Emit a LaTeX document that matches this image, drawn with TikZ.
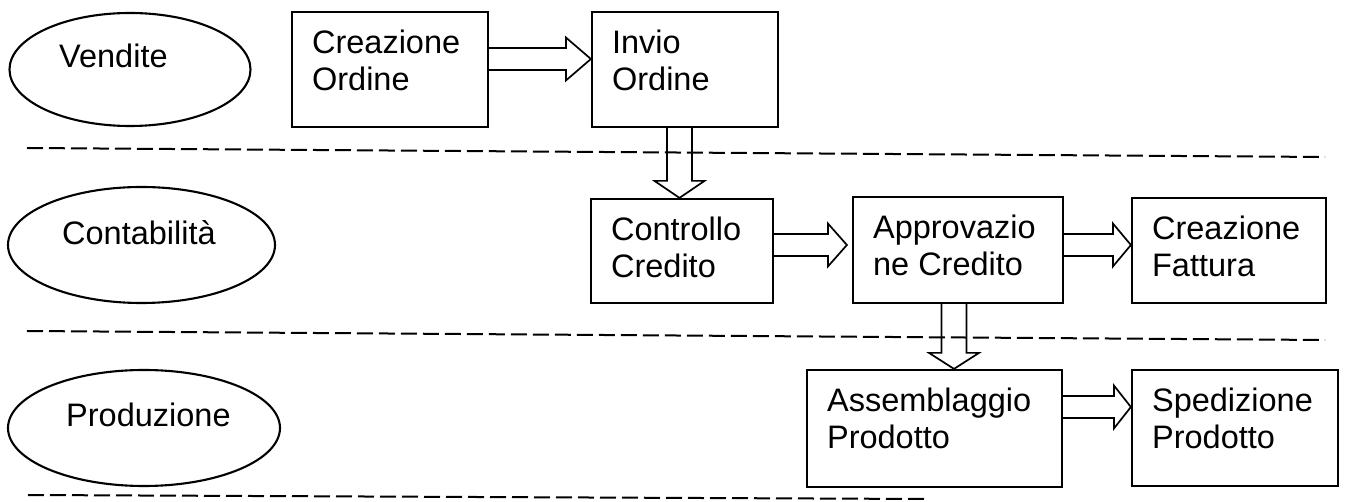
\documentclass[tikz,border=0pt]{standalone}
\usepackage{fontspec}
\setmainfont{Liberation Sans}
\usetikzlibrary{calc,shapes.geometric}

\tikzset{
  txt/.style={inner sep=0pt, anchor=base west, font=\fontsize{32.5}{37.5}\selectfont},
  lane/.style={draw, line width=2.1pt, ellipse, inner sep=0pt},
  task/.style={draw, line width=2.2pt, rectangle, inner sep=0pt},
  blk/.style={draw, line width=1.7pt, line join=miter},
  sep/.style={line width=2pt, dash pattern=on 16pt off 6pt}
}

% horizontal block arrow: from, to, tip y, head length, gap before target
\newcommand\hblk[5]{%
  \draw[blk] (#1.east |- 0,#3-11)
    -- ($(#2.west |- 0,#3-11)+(-#4-#5,0)$)
    -- ($(#2.west |- 0,#3-21.5)+(-#4-#5,0)$)
    -- ($(#2.west |- 0,#3)+(-#5,0)$)
    -- ($(#2.west |- 0,#3+21.5)+(-#4-#5,0)$)
    -- ($(#2.west |- 0,#3+11)+(-#4-#5,0)$)
    -- (#1.east |- 0,#3+11);}

% vertical block arrow: from, to, centre x, head length
\newcommand\vblk[4]{%
  \draw[blk] (#1.south -| #3-12.5,0)
    -- ($(#2.north -| #3-12.5,0)+(0,-#4)$)
    -- ($(#2.north -| #3-25,0)+(0,-#4)$)
    -- (#2.north -| #3,0)
    -- ($(#2.north -| #3+25,0)+(0,-#4)$)
    -- ($(#2.north -| #3+12.5,0)+(0,-#4)$)
    -- (#1.south -| #3+12.5,0);}

\newcommand\boxtext[3]{%
  \node[txt] (#1) at ($(#2.north west)+(21,42.5)$)
    {\begin{tabular}[t]{@{}l@{}}#3\end{tabular}};}

\begin{document}
\begin{tikzpicture}[x=1pt, y=-1pt]
\useasboundingbox (0,0) rectangle (1345,502);

% department lanes
\node[lane, minimum width=241, minimum height=113] (vend) at (130,69.5) {};
\node[lane, minimum width=267, minimum height=116] (cont) at (141.5,245) {};
\node[lane, minimum width=272, minimum height=116] (prod) at (144,428) {};
\node[txt] (tvend) at (59,67.5) {Vendite};
\node[txt] (tcont) at (62,244.5) {Contabilità};
\node[txt] (tprod) at (66,426.5) {Produzione};

% lane separators
\coordinate (s1a) at (27,148);  \coordinate (s1b) at (1325,157);
\coordinate (s2a) at (27,331);  \coordinate (s2b) at (1325,340);
\coordinate (s3a) at (28,495);  \coordinate (s3b) at (925,499);
\draw[sep] (s1a) -- (s1b);
\draw[sep] (s2a) -- (s2b);
\draw[sep] (s3a) -- (s3b);

% process steps
\node[task, minimum width=196, minimum height=115] (co) at (390,69.5) {};
\node[task, minimum width=186, minimum height=115] (io) at (685,69.5) {};
\node[task, minimum width=182, minimum height=104] (cc) at (682,251) {};
\node[task, minimum width=210, minimum height=106] (ac) at (958,250) {};
\node[task, minimum width=194, minimum height=105] (cf) at (1229,250.5) {};
\node[task, minimum width=255, minimum height=117] (ap) at (934.5,428.5) {};
\node[task, minimum width=206, minimum height=116] (sp) at (1235,428) {};

\boxtext{tco}{co}{Creazione\\Ordine}
\boxtext{tio}{io}{Invio\\Ordine}
\boxtext{tcc}{cc}{Controllo\\Credito}
\boxtext{tac}{ac}{Approvazio\\ne Credito}
\boxtext{tcf}{cf}{Creazione\\Fattura}
\boxtext{tap}{ap}{Assemblaggio\\Prodotto}
\boxtext{tsp}{sp}{Spedizione\\Prodotto}

% flow
\hblk{co}{io}{59}{25}{0}
\vblk{io}{cc}{679.5}{17}
\hblk{cc}{ac}{245}{19}{5}
\hblk{ac}{cf}{245}{18}{0}
\vblk{ac}{ap}{954}{16}
\hblk{ap}{sp}{407}{17}{0}
\end{tikzpicture}
\end{document}
